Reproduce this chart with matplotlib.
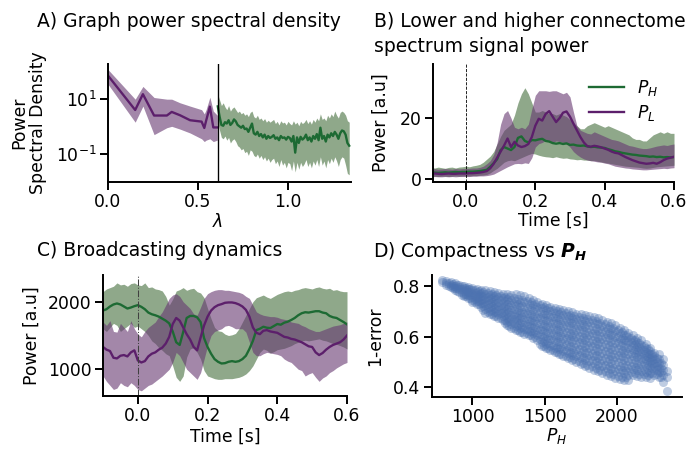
import numpy as np
import matplotlib
matplotlib.use("Agg")
import matplotlib.pyplot as plt

# ---------------- data ----------------
# A) graph power spectral density (low part, purple)
lam_low = [0.0, 0.151, 0.194, 0.256, 0.327, 0.354, 0.40, 0.456, 0.52, 0.535, 0.545, 0.566, 0.585, 0.607]
psd_low_log10 = [1.83, 0.59, 1.16, 0.39, 0.39, 0.52, 0.40, 0.22, 0.17, -0.06, 0.20, 0.71, -0.04, -0.04]
psd_low_hi_log10 = [2.05, 0.98, 1.44, 1.04, 0.98, 0.98, 0.85, 0.73, 0.60, 0.45, 0.60, 1.05, 0.55, 0.40]
psd_low_lo_log10 = [1.52, 0.15, 0.73, -0.30, -0.05, 0.0, -0.10, -0.24, -0.45, -0.55, -0.50, -0.45, -0.55, -0.50]

# A) high part (green), lambda from 0.61 to 1.34 in steps of 0.01
lam_high_start, lam_high_step = 0.61, 0.01
psd_high_log10 = [0.72, 0.35, 0.05, 0.02, 0.15, 0.10, 0.22, 0.05, 0.12, 0.25,
                  0.18, 0.05, 0.00, -0.05, 0.02, -0.10, -0.08, -0.20, -0.05, 0.10,
                  -0.25, -0.30, -0.20, -0.35, -0.28, -0.40, -0.30, -0.45, -0.35, -0.42,
                  -0.38, -0.32, -0.45, -0.40, -0.50, -0.35, -0.42, -0.40, -0.48, -0.38,
                  -0.42, -0.55, -0.35, -0.95, -0.40, -0.60, -0.38, -0.48, -0.42, -0.30,
                  -0.50, -0.40, -0.55, -0.35, -0.45, -0.28, -0.50, -0.05, -0.45, -0.35,
                  -0.55, -0.30, -0.40, -0.25, -0.35, -0.20, -0.30, -0.45, -0.25, -0.15,
                  -0.18, -0.30, -0.60, -0.70]
psd_high_hi_log10 = [1.15, 0.95, 0.75, 0.85, 0.70, 0.60, 0.75, 0.55, 0.65, 0.70,
                     0.60, 0.50, 0.55, 0.45, 0.50, 0.40, 0.45, 0.35, 0.50, 0.55,
                     0.35, 0.30, 0.40, 0.25, 0.30, 0.20, 0.28, 0.15, 0.22, 0.15,
                     0.20, 0.25, 0.10, 0.18, 0.05, 0.20, 0.12, 0.15, 0.05, 0.18,
                     0.10, 0.05, 0.20, 0.08, 0.15, 0.02, 0.18, 0.10, 0.15, 0.25,
                     0.10, 0.20, 0.08, 0.25, 0.15, 0.30, 0.20, 0.45, 0.25, 0.30,
                     0.20, 0.40, 0.30, 0.45, 0.35, 0.55, 0.40, 0.30, 0.50, 0.55,
                     0.50, 0.40, 0.20, 0.15]
psd_high_lo_log10 = [0.15, -0.15, -0.40, -0.45, -0.35, -0.50, -0.40, -0.60, -0.50, -0.45,
                     -0.55, -0.70, -0.75, -0.85, -0.80, -0.95, -0.90, -1.05, -0.85, -0.90,
                     -1.05, -1.10, -1.00, -1.15, -1.05, -1.20, -1.10, -1.25, -1.15, -1.30,
                     -1.20, -1.15, -1.35, -1.25, -1.45, -1.20, -1.40, -1.30, -1.50, -1.30,
                     -1.35, -1.60, -1.25, -1.65, -1.30, -1.55, -1.30, -1.45, -1.35, -1.20,
                     -1.45, -1.30, -1.50, -1.25, -1.40, -1.20, -1.45, -1.10, -1.40, -1.25,
                     -1.50, -1.20, -1.35, -1.15, -1.30, -1.10, -1.25, -1.45, -1.20, -1.10,
                     -1.15, -1.40, -1.70, -1.75]
lam_split = 0.61

# B / C time axis: -0.10 .. 0.60 s in 10 ms steps
t_start, t_stop, t_step = -0.10, 0.60, 0.01

# B) low / high connectome spectrum signal power
pH_mean = [2.0, 2.1, 2.0, 2.1, 2.2, 2.1, 2.2, 2.3, 2.2, 2.3,
           2.3, 2.4, 2.4, 2.5, 2.6, 2.8, 3.0, 4.0, 5.2, 6.5,
           9.5, 10.5, 10.0, 9.5, 10.5, 13.5, 14.0, 12.5, 12.0, 12.8,
           12.7, 13.0, 13.2, 12.5, 12.3, 11.8, 11.6, 11.8, 11.5, 11.7,
           11.2, 11.3, 11.0, 10.9, 11.0, 10.7, 10.5, 10.6, 10.4, 10.3,
           10.2, 9.8, 9.5, 9.1, 8.9, 8.6, 8.4, 8.2, 8.0, 7.9,
           7.7, 7.6, 7.5, 7.3, 7.4, 7.2, 7.3, 7.1, 7.2, 7.1, 7.2]
pH_upper = [3.8, 3.6, 3.9, 3.7, 3.5, 3.8, 3.9, 3.6, 3.9, 4.0,
            4.2, 4.0, 4.3, 4.5, 4.8, 5.5, 6.5, 7.5, 9.0, 11.5,
            14, 16, 17, 18, 21, 25, 28, 30, 28, 25,
            22, 22, 22.5, 22, 21.5, 21.5, 21, 21.5, 21, 20.5,
            19.5, 18.5, 17.5, 16.5, 16.5, 17.5, 18, 18.5, 18, 17.5,
            17, 17.5, 17, 16.5, 16, 15.5, 15, 14.5, 13.5, 13,
            13, 12.5, 12.5, 13.5, 14.5, 15, 15.5, 15, 15.5, 15, 15]
pH_lower = [0.8, 0.9, 0.8, 0.9, 0.9, 0.8, 0.9, 1.0, 0.9, 1.0,
            1.0, 1.0, 1.1, 1.1, 1.2, 1.3, 1.5, 2.0, 2.8, 3.5,
            4.5, 5.5, 6.0, 6.2, 6.0, 6.5, 7.0, 7.5, 8.0, 8.4,
            8.2, 7.8, 7.5, 7.3, 7.2, 7.0, 7.3, 7.0, 6.8, 6.9,
            6.6, 6.5, 6.3, 6.4, 6.2, 6.2, 6.0, 6.1, 5.8, 5.6,
            5.4, 5.2, 5.0, 4.8, 4.6, 4.4, 4.2, 4.1, 4.0, 3.9,
            3.8, 3.6, 3.5, 3.6, 3.8, 4.0, 4.1, 4.2, 4.3, 4.4, 4.5]
pL_mean = [1.7, 1.8, 1.7, 1.6, 1.7, 1.8, 1.7, 1.7, 1.8, 1.8,
           1.8, 1.9, 1.9, 2.0, 2.1, 2.3, 2.6, 3.5, 5.0, 7.0,
           9.0, 11.0, 13.3, 10.5, 12.2, 11.0, 10.5, 10.8, 11.5, 13.8,
           17.5, 19.8, 19.2, 21.4, 22.3, 20.5, 18.7, 20.0, 21.8, 22.2,
           20.5, 18.2, 16.0, 13.8, 12.0, 10.8, 10.6, 10.9, 10.7, 10.4,
           10.0, 9.6, 9.0, 8.6, 8.4, 7.8, 7.2, 6.7, 6.2, 5.8,
           5.4, 5.2, 5.0, 5.1, 5.3, 5.0, 5.5, 6.2, 6.7, 7.0, 7.3]
pL_upper = [3.3, 3.4, 3.2, 3.3, 3.4, 3.3, 3.2, 3.4, 3.3, 3.4,
            3.4, 3.5, 3.6, 3.6, 3.8, 4.2, 5.0, 6.0, 8.0, 12.0,
            18.0, 21.5, 22.5, 20.0, 17.0, 16.5, 17.0, 16.5, 18.0, 23.0,
            27.5, 29.0, 29.0, 29.0, 28.8, 29.0, 29.0, 28.5, 28.0, 28.5,
            27.0, 22.0, 17.5, 16.0, 15.5, 15.0, 14.8, 15.5, 15.0, 14.5,
            14.0, 13.5, 13.0, 12.8, 12.5, 12.0, 11.5, 11.0, 10.8, 10.5,
            10.2, 10.0, 10.0, 10.2, 10.5, 10.8, 11.0, 11.2, 11.0, 11.3, 11.5]
pL_lower = [0.7, 0.8, 0.7, 0.7, 0.8, 0.7, 0.8, 0.7, 0.8, 0.8,
            0.8, 0.8, 0.9, 0.9, 1.0, 1.0, 1.1, 1.3, 1.6, 2.2,
            2.8, 3.4, 4.0, 4.5, 5.0, 5.1, 5.0, 5.3, 5.1, 7.0,
            10.5, 11.6, 12.0, 12.7, 12.5, 12.0, 12.5, 12.3, 12.0, 11.5,
            10.5, 9.0, 8.0, 7.2, 6.6, 6.2, 6.0, 5.8, 5.6, 5.5,
            5.2, 5.0, 4.6, 4.2, 4.0, 3.8, 3.6, 3.5, 3.3, 3.2,
            3.1, 3.0, 3.0, 3.1, 3.2, 3.3, 3.4, 3.5, 3.4, 3.6, 3.7]

# C) broadcasting dynamics
cH_mean = [1870, 1890, 1930, 1960, 1975, 1960, 1930, 1900, 1915, 1935,
           1950, 1925, 1890, 1840, 1815, 1800, 1780, 1750, 1720, 1680,
           1560, 1400, 1360, 1550, 1760, 1790, 1790, 1770, 1700, 1460,
           1330, 1230, 1150, 1110, 1085, 1090, 1110, 1120, 1110, 1120,
           1150, 1200, 1300, 1420, 1580, 1600, 1630, 1615, 1610, 1640,
           1670, 1660, 1690, 1705, 1730, 1760, 1800, 1830, 1845, 1840,
           1850, 1860, 1860, 1840, 1830, 1790, 1770, 1760, 1730, 1700, 1665]
cH_upper = [2150, 2190, 2210, 2230, 2280, 2250, 2260, 2230, 2270, 2280,
            2250, 2240, 2280, 2210, 2220, 2190, 2180, 2160, 2080, 1950,
            2040, 2160, 2180, 2210, 2170, 2190, 2200, 2150, 2130, 2060,
            1900, 1750, 1620, 1570, 1560, 1520, 1500, 1510, 1530, 1600,
            1700, 1800, 1900, 2000, 2060, 2080, 2100, 2070, 2050, 2080,
            2110, 2130, 2150, 2160, 2150, 2170, 2180, 2200, 2210, 2200,
            2190, 2210, 2220, 2200, 2190, 2200, 2170, 2180, 2160, 2150, 2150]
cH_lower = [1600, 1560, 1620, 1680, 1650, 1560, 1600, 1640, 1680, 1620,
            1640, 1600, 1560, 1500, 1420, 1380, 1320, 1280, 1230, 1200,
            1050, 880, 820, 900, 1180, 1300, 1320, 1250, 1150, 980,
            900, 880, 860, 850, 850, 860, 860, 860, 870, 880,
            900, 930, 980, 1050, 1150, 1250, 1300, 1280, 1240, 1260,
            1290, 1300, 1310, 1330, 1350, 1380, 1400, 1420, 1430, 1420,
            1430, 1440, 1450, 1430, 1420, 1400, 1380, 1370, 1350, 1330, 1300]
cL_mean = [1330, 1290, 1270, 1170, 1160, 1200, 1210, 1190, 1250, 1280,
           1130, 1100, 1120, 1190, 1230, 1250, 1290, 1320, 1380, 1480,
           1670, 1760, 1720, 1620, 1520, 1440, 1330, 1280, 1470, 1650,
           1780, 1870, 1920, 1950, 1965, 1985, 1990, 1990, 1980, 1960,
           1930, 1880, 1780, 1620, 1540, 1520, 1570, 1580, 1560, 1550,
           1540, 1510, 1480, 1470, 1450, 1440, 1420, 1400, 1370, 1340,
           1330, 1250, 1210, 1240, 1290, 1330, 1360, 1380, 1400, 1440, 1500]
cL_upper = [1700, 1650, 1720, 1560, 1550, 1680, 1620, 1560, 1720, 1600,
            1520, 1480, 1560, 1620, 1660, 1700, 1780, 1850, 1950, 2050,
            2100, 2120, 2080, 2000, 1950, 1900, 1820, 1800, 1920, 2050,
            2120, 2150, 2170, 2180, 2180, 2170, 2170, 2160, 2150, 2140,
            2120, 2080, 2050, 1950, 1850, 1820, 1800, 1790, 1780, 1780,
            1770, 1750, 1740, 1730, 1700, 1690, 1680, 1650, 1630, 1600,
            1580, 1560, 1560, 1580, 1600, 1620, 1640, 1650, 1660, 1680, 1700]
cL_lower = [900, 820, 760, 700, 720, 800, 760, 740, 800, 760,
            700, 680, 720, 760, 780, 820, 860, 900, 950, 1000,
            1100, 1250, 1200, 1100, 1000, 950, 900, 850, 950, 1150,
            1350, 1500, 1560, 1580, 1600, 1640, 1650, 1630, 1600, 1600,
            1600, 1550, 1400, 1250, 1200, 1200, 1230, 1250, 1240, 1230,
            1220, 1200, 1150, 1120, 1100, 1050, 1000, 980, 900, 930,
            950, 880, 820, 870, 900, 950, 980, 1020, 1050, 1080, 1100]

# D) compactness vs P_H : P_H column values and 1-error values in each column
ph_cols = [790, 820, 850, 880, 910, 940, 970, 1000, 1030, 1060, 1090, 1120, 1150, 1180,
           1210, 1240, 1270, 1300, 1330, 1360, 1390, 1420, 1450, 1480, 1510, 1540, 1570,
           1600, 1630, 1660, 1690, 1720, 1750, 1780, 1810, 1840, 1870, 1900, 1930, 1960,
           1990, 2020, 2050, 2080, 2110, 2140, 2170, 2200, 2230, 2260, 2290, 2320, 2350]
acc_cols = [
    [0.822, 0.815],
    [0.820, 0.812, 0.805],
    [0.815, 0.805, 0.797],
    [0.810, 0.800, 0.790, 0.783],
    [0.805, 0.795, 0.786, 0.776],
    [0.800, 0.792, 0.780, 0.770, 0.760],
    [0.797, 0.787, 0.776, 0.765, 0.752],
    [0.793, 0.782, 0.770, 0.758, 0.745, 0.738],
    [0.788, 0.777, 0.765, 0.752, 0.740, 0.728],
    [0.785, 0.773, 0.760, 0.746, 0.733, 0.718],
    [0.782, 0.768, 0.754, 0.740, 0.726, 0.710, 0.695],
    [0.778, 0.764, 0.749, 0.734, 0.718, 0.703, 0.688],
    [0.776, 0.760, 0.744, 0.727, 0.712, 0.696, 0.680],
    [0.773, 0.756, 0.738, 0.721, 0.705, 0.690, 0.672],
    [0.770, 0.752, 0.733, 0.715, 0.698, 0.682, 0.665],
    [0.768, 0.748, 0.729, 0.710, 0.692, 0.675, 0.657, 0.645],
    [0.766, 0.745, 0.724, 0.704, 0.686, 0.668, 0.650, 0.636],
    [0.770, 0.742, 0.720, 0.698, 0.679, 0.661, 0.643, 0.628],
    [0.765, 0.738, 0.715, 0.693, 0.673, 0.654, 0.636, 0.620],
    [0.760, 0.735, 0.710, 0.688, 0.667, 0.647, 0.629, 0.612],
    [0.752, 0.730, 0.705, 0.682, 0.661, 0.641, 0.622, 0.605],
    [0.745, 0.725, 0.700, 0.677, 0.655, 0.634, 0.614, 0.596],
    [0.738, 0.718, 0.695, 0.672, 0.649, 0.627, 0.607, 0.587],
    [0.730, 0.712, 0.690, 0.666, 0.643, 0.621, 0.600, 0.580, 0.565],
    [0.724, 0.706, 0.684, 0.660, 0.637, 0.614, 0.592, 0.572, 0.556],
    [0.718, 0.700, 0.678, 0.654, 0.631, 0.608, 0.585, 0.564, 0.548],
    [0.714, 0.694, 0.672, 0.649, 0.625, 0.601, 0.578, 0.557, 0.540],
    [0.710, 0.690, 0.667, 0.643, 0.619, 0.595, 0.572, 0.550, 0.530],
    [0.706, 0.686, 0.662, 0.638, 0.614, 0.589, 0.565, 0.543, 0.522],
    [0.700, 0.680, 0.657, 0.633, 0.608, 0.583, 0.559, 0.536, 0.515],
    [0.696, 0.675, 0.652, 0.628, 0.603, 0.578, 0.553, 0.529, 0.508],
    [0.690, 0.670, 0.647, 0.622, 0.597, 0.572, 0.547, 0.522, 0.500],
    [0.688, 0.666, 0.642, 0.617, 0.592, 0.566, 0.540, 0.515, 0.493],
    [0.684, 0.662, 0.637, 0.612, 0.586, 0.560, 0.534, 0.508, 0.486],
    [0.680, 0.657, 0.632, 0.606, 0.580, 0.554, 0.528, 0.502, 0.478],
    [0.676, 0.652, 0.627, 0.601, 0.575, 0.548, 0.522, 0.496, 0.470],
    [0.672, 0.648, 0.622, 0.596, 0.569, 0.542, 0.516, 0.489, 0.463],
    [0.665, 0.642, 0.617, 0.590, 0.563, 0.536, 0.509, 0.483, 0.456],
    [0.658, 0.636, 0.611, 0.585, 0.558, 0.531, 0.503, 0.477, 0.450],
    [0.652, 0.630, 0.605, 0.579, 0.552, 0.525, 0.497, 0.471, 0.444],
    [0.645, 0.623, 0.599, 0.573, 0.546, 0.519, 0.491, 0.465, 0.438],
    [0.636, 0.615, 0.592, 0.567, 0.541, 0.514, 0.486, 0.459, 0.432],
    [0.626, 0.607, 0.585, 0.561, 0.535, 0.508, 0.481, 0.455, 0.428],
    [0.615, 0.597, 0.577, 0.555, 0.530, 0.503, 0.476, 0.450, 0.430],
    [0.605, 0.588, 0.568, 0.548, 0.524, 0.498, 0.472, 0.447],
    [0.595, 0.578, 0.560, 0.541, 0.519, 0.494, 0.468, 0.444],
    [0.585, 0.568, 0.551, 0.533, 0.513, 0.490, 0.465, 0.442],
    [0.572, 0.557, 0.541, 0.525, 0.507, 0.486, 0.462, 0.440],
    [0.555, 0.544, 0.530, 0.515, 0.499, 0.480, 0.458, 0.437],
    [0.535, 0.525, 0.512, 0.498, 0.484, 0.468, 0.450],
    [0.530, 0.510, 0.495, 0.478, 0.460, 0.440],
    [0.510, 0.490, 0.470, 0.450, 0.420],
    [0.465, 0.440, 0.385],
]
# interior points between the columns above (dense core of the cloud)
ph_cols_mid = [835, 865, 895, 925, 955, 985, 1015, 1045, 1075, 1105, 1135, 1165, 1195,
               1225, 1255, 1285, 1315, 1345, 1375, 1405, 1435, 1465, 1495, 1525, 1555,
               1585, 1615, 1645, 1675, 1705, 1735, 1765, 1795, 1825, 1855, 1885, 1915,
               1945, 1975, 2005, 2035, 2065, 2095, 2125, 2155, 2185, 2215, 2245, 2275, 2305]
acc_cols_mid = [
    [0.811, 0.801],
    [0.808, 0.799, 0.790],
    [0.803, 0.792, 0.781],
    [0.798, 0.787, 0.775, 0.765],
    [0.793, 0.782, 0.770, 0.759],
    [0.789, 0.777, 0.764, 0.751],
    [0.785, 0.773, 0.760, 0.747, 0.735],
    [0.780, 0.768, 0.755, 0.741, 0.727],
    [0.776, 0.762, 0.748, 0.734, 0.719, 0.705],
    [0.772, 0.757, 0.743, 0.727, 0.711, 0.697],
    [0.768, 0.753, 0.737, 0.721, 0.705, 0.689],
    [0.765, 0.748, 0.731, 0.714, 0.698, 0.681],
    [0.762, 0.744, 0.726, 0.709, 0.692, 0.675],
    [0.758, 0.739, 0.720, 0.702, 0.684, 0.667, 0.652],
    [0.755, 0.735, 0.715, 0.696, 0.678, 0.660, 0.643],
    [0.752, 0.731, 0.709, 0.689, 0.670, 0.652, 0.636],
    [0.748, 0.727, 0.705, 0.684, 0.664, 0.645, 0.628],
    [0.744, 0.722, 0.699, 0.678, 0.657, 0.638, 0.620],
    [0.740, 0.717, 0.694, 0.672, 0.651, 0.632, 0.613],
    [0.736, 0.712, 0.688, 0.666, 0.645, 0.624, 0.605],
    [0.730, 0.707, 0.683, 0.660, 0.638, 0.617, 0.597],
    [0.724, 0.701, 0.678, 0.654, 0.632, 0.610, 0.590, 0.572],
    [0.718, 0.695, 0.672, 0.648, 0.625, 0.603, 0.582, 0.563],
    [0.712, 0.689, 0.666, 0.642, 0.619, 0.596, 0.575, 0.556],
    [0.706, 0.683, 0.660, 0.637, 0.613, 0.590, 0.568, 0.548],
    [0.701, 0.678, 0.655, 0.631, 0.607, 0.584, 0.561, 0.540],
    [0.697, 0.674, 0.650, 0.626, 0.601, 0.577, 0.554, 0.532],
    [0.692, 0.668, 0.645, 0.620, 0.596, 0.571, 0.547, 0.525],
    [0.687, 0.664, 0.640, 0.615, 0.590, 0.565, 0.541, 0.518],
    [0.682, 0.659, 0.635, 0.610, 0.585, 0.560, 0.535, 0.511],
    [0.678, 0.654, 0.629, 0.604, 0.579, 0.553, 0.528, 0.504],
    [0.674, 0.650, 0.625, 0.599, 0.573, 0.547, 0.521, 0.497],
    [0.669, 0.645, 0.619, 0.593, 0.567, 0.541, 0.515, 0.490],
    [0.664, 0.640, 0.614, 0.588, 0.562, 0.535, 0.509, 0.483],
    [0.660, 0.635, 0.609, 0.583, 0.556, 0.529, 0.503, 0.476],
    [0.654, 0.630, 0.604, 0.577, 0.550, 0.523, 0.496, 0.470],
    [0.648, 0.624, 0.598, 0.572, 0.545, 0.517, 0.490, 0.464],
    [0.641, 0.618, 0.593, 0.566, 0.539, 0.512, 0.484, 0.458],
    [0.634, 0.611, 0.586, 0.560, 0.533, 0.506, 0.478, 0.452],
    [0.626, 0.604, 0.580, 0.554, 0.528, 0.500, 0.473, 0.446],
    [0.617, 0.596, 0.573, 0.548, 0.522, 0.495, 0.468, 0.442],
    [0.607, 0.587, 0.566, 0.542, 0.517, 0.490, 0.464, 0.440],
    [0.596, 0.578, 0.558, 0.536, 0.512, 0.486, 0.460],
    [0.586, 0.569, 0.550, 0.530, 0.507, 0.482, 0.457],
    [0.576, 0.560, 0.542, 0.523, 0.501, 0.478, 0.454],
    [0.565, 0.549, 0.533, 0.515, 0.496, 0.474, 0.452],
    [0.550, 0.536, 0.521, 0.505, 0.488, 0.468, 0.448],
    [0.532, 0.520, 0.506, 0.491, 0.475, 0.458],
    [0.515, 0.500, 0.485, 0.468, 0.452],
    [0.495, 0.478, 0.460, 0.440],
]

# ---------------- style ----------------
DPI = 75
GREEN_LINE = "#1d6a33"
PURPLE_LINE = "#5c1f6b"
GREEN_FILL = "#446e3c"
PURPLE_FILL = "#663771"
FILL_ALPHA = 0.6
SCATTER_COLOR = "#4c72b0"

plt.rcParams.update({
    "font.family": ["DejaVu Sans"],
    "font.size": 16.5,
    "axes.linewidth": 1.875,
    "xtick.major.width": 1.875,
    "ytick.major.width": 1.875,
    "xtick.major.size": 7.5,
    "ytick.major.size": 7.5,
    "xtick.labelsize": 16.5,
    "ytick.labelsize": 16.5,
    "axes.labelsize": 16.5,
    "lines.linewidth": 2.25,
    "mathtext.fontset": "dejavusans",
})

W, H = 691, 450
fig = plt.figure(figsize=(W / DPI, H / DPI), dpi=DPI)


def add_ax(left_px, top_px, right_px, bottom_px):
    return fig.add_axes([left_px / W, 1 - bottom_px / H,
                         (right_px - left_px) / W, (bottom_px - top_px) / H])


def despine(ax):
    ax.spines["top"].set_visible(False)
    ax.spines["right"].set_visible(False)


def title(x_px, y_px, txt):
    fig.text(x_px / W, 1 - y_px / H, txt, fontsize=18, ha="left", va="baseline")


# ---------------- A ----------------
axA = add_ax(108, 64, 351, 182)
lam_high = np.round(lam_high_start + lam_high_step * np.arange(len(psd_high_log10)), 3)
axA.fill_between(lam_low, 10 ** np.array(psd_low_lo_log10), 10 ** np.array(psd_low_hi_log10),
                 color=PURPLE_FILL, alpha=FILL_ALPHA, linewidth=0)
axA.plot(lam_low, 10 ** np.array(psd_low_log10), color=PURPLE_LINE)
axA.fill_between(lam_high, 10 ** np.array(psd_high_lo_log10), 10 ** np.array(psd_high_hi_log10),
                 color=GREEN_FILL, alpha=FILL_ALPHA, linewidth=0)
axA.plot(lam_high, 10 ** np.array(psd_high_log10), color=GREEN_LINE)
axA.axvline(lam_split, color="black", linewidth=1.3)
axA.set_yscale("log")
axA.set_xlim(0, 1.35)
axA.set_ylim(10 ** -2.01, 10 ** 2.25)
axA.set_xticks([0.0, 0.5, 1.0])
axA.set_xticklabels(["0.0", "0.5", "1.0"])
axA.set_yticks([0.1, 10])
axA.yaxis.set_minor_locator(matplotlib.ticker.NullLocator())
axA.set_ylabel("Power\nSpectral Density", linespacing=1.1)
axA.yaxis.set_label_coords(-0.25, 0.5)
axA.set_xlabel(r"$\lambda$")
axA.xaxis.set_label_coords(0.45, -0.26)
despine(axA)
title(37, 27, "A) Graph power spectral density")

# ---------------- B ----------------
t = np.round(np.arange(t_start, t_stop + t_step / 2, t_step), 3)
axB = add_ax(433, 64, 674, 182)
axB.fill_between(t, pH_lower, pH_upper, color=GREEN_FILL, alpha=FILL_ALPHA, linewidth=0)
axB.fill_between(t, pL_lower, pL_upper, color=PURPLE_FILL, alpha=FILL_ALPHA, linewidth=0)
axB.plot(t, pH_mean, color=GREEN_LINE, label=r"$P_H$")
axB.plot(t, pL_mean, color=PURPLE_LINE, label=r"$P_L$")
axB.axvline(0, color="black", linestyle="--", linewidth=0.8)
axB.set_xlim(-0.095, 0.6)
axB.set_ylim(-1, 37.8)
axB.set_xticks([0.0, 0.2, 0.4, 0.6])
axB.set_xticklabels(["0.0", "0.2", "0.4", "0.6"])
axB.set_yticks([0, 20])
axB.set_ylabel("Power [a.u]")
axB.yaxis.set_label_coords(-0.18, 0.5)
axB.set_xlabel("Time [s]")
axB.xaxis.set_label_coords(0.5, -0.25)
axB.legend(loc="upper right", bbox_to_anchor=(1.0, 1.01), frameon=False,
           fontsize=16.5, handlelength=2.0, labelspacing=0.3, handletextpad=0.8)
despine(axB)
title(374, 27, "B) Lower and higher connectome")
title(374, 52, "spectrum signal power")

# ---------------- C ----------------
axC = add_ax(103, 275, 347, 396)
axC.fill_between(t, cH_lower, cH_upper, color=GREEN_FILL, alpha=FILL_ALPHA, linewidth=0)
axC.fill_between(t, cL_lower, cL_upper, color=PURPLE_FILL, alpha=FILL_ALPHA, linewidth=0)
axC.plot(t, cH_mean, color=GREEN_LINE)
axC.plot(t, cL_mean, color=PURPLE_LINE)
axC.axvline(0, color="0.25", linestyle="-.", linewidth=1.0)
axC.set_xlim(-0.1, 0.6)
axC.set_ylim(603, 2397)
axC.set_xticks([0.0, 0.2, 0.4, 0.6])
axC.set_xticklabels(["0.0", "0.2", "0.4", "0.6"])
axC.set_yticks([1000, 2000])
axC.set_ylabel("Power [a.u]")
axC.yaxis.set_label_coords(-0.255, 0.5)
axC.set_xlabel("Time [s]")
axC.xaxis.set_label_coords(0.5, -0.26)
despine(axC)
title(37, 256, "C) Broadcasting dynamics")

# ---------------- D ----------------
axD = add_ax(432, 275, 682, 397)
ph_vals = ([x for x, col in zip(ph_cols, acc_cols) for _ in col]
           + [x for x, col in zip(ph_cols_mid, acc_cols_mid) for _ in col])
acc_vals = ([y for col in acc_cols for y in col]
            + [y for col in acc_cols_mid for y in col])
axD.scatter(ph_vals, acc_vals, s=75, color=SCATTER_COLOR, alpha=0.36, linewidths=0)
axD.set_xlim(720, 2451)
axD.set_ylim(0.362, 0.843)
axD.set_xticks([1000, 1500, 2000])
axD.set_yticks([0.4, 0.6, 0.8])
axD.set_yticklabels(["0.4", "0.6", "0.8"])
axD.set_ylabel("1-error")
axD.yaxis.set_label_coords(-0.19, 0.5)
axD.set_xlabel(r"$P_H$")
axD.xaxis.set_label_coords(0.5, -0.24)
despine(axD)
title(373, 257, r"D) Compactness vs $\mathbfit{P}_{\mathbfit{H}}$")

fig.savefig("out.png", dpi=DPI)
